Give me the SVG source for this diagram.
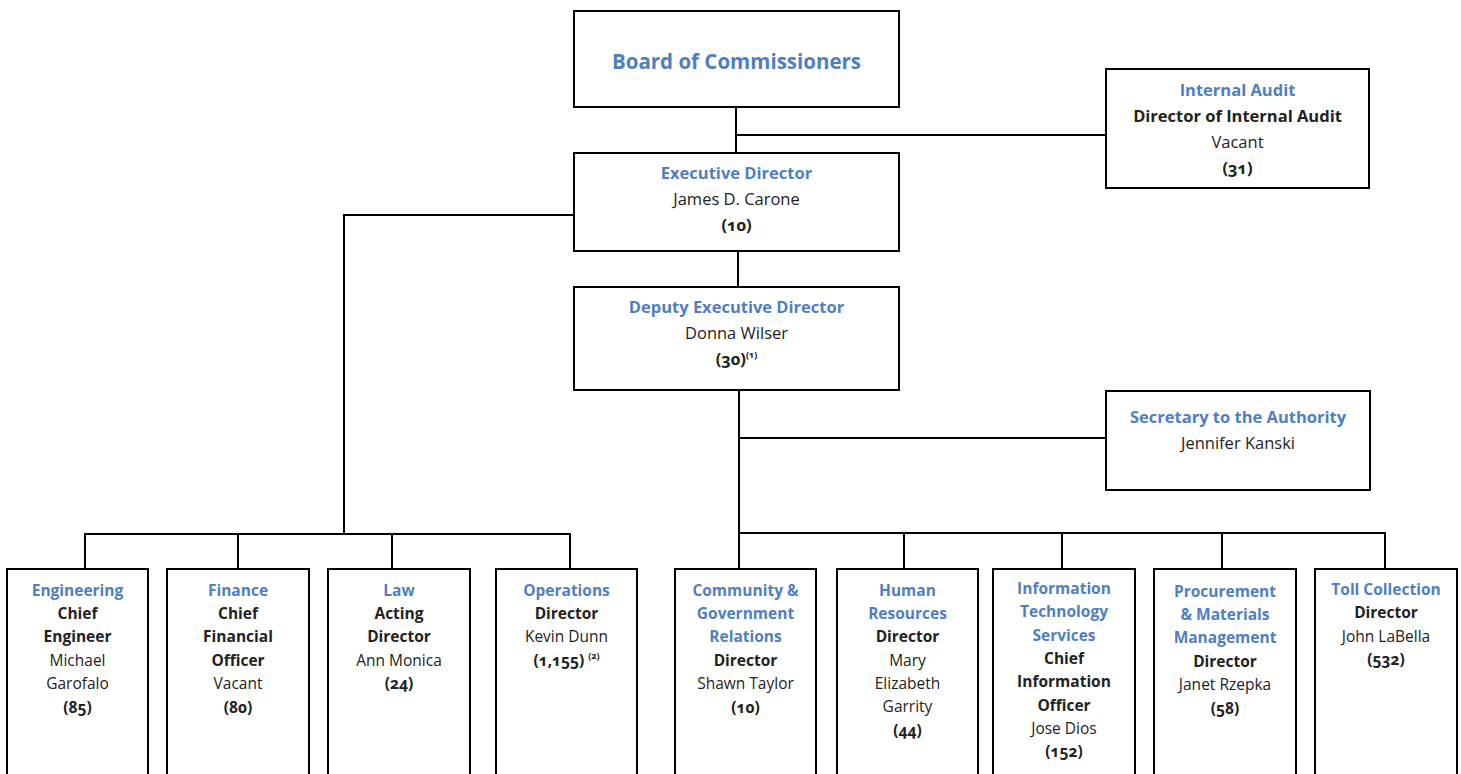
<svg xmlns="http://www.w3.org/2000/svg" width="1461" height="774" viewBox="0 0 1461 774">
<style>
.box{fill:#fff;stroke:#000;stroke-width:2}
.conn line,.conn polyline{stroke:#000;stroke-width:2;fill:none}
text{font-family:"Open Sans",Lato,"Liberation Sans",sans-serif;font-size:15.5px;text-anchor:middle;fill:#222;font-variant-numeric:oldstyle-nums}
.top text{font-size:16.5px}
.t{fill:#4f7ec2;font-weight:bold}
.b{font-weight:bold}
.top text.big{font-size:20.5px}
.top text .sup,.sup{font-size:9px;font-weight:bold}
</style>
<rect width="1461" height="774" fill="#fff"/>
<g class="conn" id="connectors">
<line x1="736" y1="107" x2="736" y2="153"/>
<line x1="736" y1="135" x2="1106" y2="135"/>
<line x1="738" y1="251" x2="738" y2="287"/>
<polyline points="574,215 344,215 344,534"/>
<polyline points="85,569 85,534 570,534 570,569"/>
<line x1="238" y1="534" x2="238" y2="569"/>
<line x1="392" y1="534" x2="392" y2="569"/>
<line x1="739" y1="390" x2="739" y2="569"/>
<line x1="739" y1="438" x2="1106" y2="438"/>
<polyline points="739,533 1385,533 1385,569"/>
<line x1="904" y1="533" x2="904" y2="569"/>
<line x1="1062" y1="533" x2="1062" y2="569"/>
<line x1="1222" y1="533" x2="1222" y2="569"/>
</g>
<g class="top">
<g id="board"><rect class="box" x="574" y="11" width="325" height="96"/>
<text class="t big" x="736.5" y="69">Board of Commissioners</text></g>
<g id="exec"><rect class="box" x="574" y="153" width="325" height="98"/>
<text class="t" x="736.5" y="179">Executive Director</text>
<text x="736.5" y="205">James D. Carone</text>
<text class="b" x="736.5" y="231">(10)</text></g>
<g id="audit"><rect class="box" x="1106" y="69" width="263" height="119"/>
<text class="t" x="1237.5" y="96">Internal Audit</text>
<text class="b" x="1237.5" y="122">Director of Internal Audit</text>
<text x="1237.5" y="148">Vacant</text>
<text class="b" x="1237.5" y="174">(31)</text></g>
<g id="deputy"><rect class="box" x="574" y="287" width="325" height="103"/>
<text class="t" x="736.5" y="313">Deputy Executive Director</text>
<text x="736.5" y="339">Donna Wilser</text>
<text class="b" x="736.5" y="365">(30)<tspan class="sup" dy="-7">(1)</tspan></text></g>
<g id="secretary"><rect class="box" x="1106" y="391" width="264" height="99"/>
<text class="t" x="1238" y="423">Secretary to the Authority</text>
<text x="1238" y="449">Jennifer Kanski</text></g>
</g>
<g id="engineering"><rect class="box" x="7" y="569" width="141" height="215"/>
<text class="t" x="77.5" y="596">Engineering</text>
<text class="b" x="77.5" y="619">Chief</text>
<text class="b" x="77.5" y="642">Engineer</text>
<text x="77.5" y="666">Michael</text>
<text x="77.5" y="689">Garofalo</text>
<text class="b" x="77.5" y="713">(85)</text></g>
<g id="finance"><rect class="box" x="167" y="569" width="142" height="215"/>
<text class="t" x="238" y="596">Finance</text>
<text class="b" x="238" y="619">Chief</text>
<text class="b" x="238" y="642">Financial</text>
<text class="b" x="238" y="666">Officer</text>
<text x="238" y="689">Vacant</text>
<text class="b" x="238" y="713">(80)</text></g>
<g id="law"><rect class="box" x="328" y="569" width="142" height="215"/>
<text class="t" x="399" y="596">Law</text>
<text class="b" x="399" y="619">Acting</text>
<text class="b" x="399" y="642">Director</text>
<text x="399" y="666">Ann Monica</text>
<text class="b" x="399" y="689">(24)</text></g>
<g id="operations"><rect class="box" x="496" y="569" width="141" height="215"/>
<text class="t" x="566.5" y="596">Operations</text>
<text class="b" x="566.5" y="619">Director</text>
<text x="566.5" y="642">Kevin Dunn</text>
<text class="b" x="566.5" y="666">(1,155) <tspan class="sup" dy="-7">(2)</tspan></text></g>
<g id="community"><rect class="box" x="675" y="569" width="141" height="215"/>
<text class="t" x="745.5" y="596">Community &amp;</text>
<text class="t" x="745.5" y="619">Government</text>
<text class="t" x="745.5" y="642">Relations</text>
<text class="b" x="745.5" y="666">Director</text>
<text x="745.5" y="689">Shawn Taylor</text>
<text class="b" x="745.5" y="713">(10)</text></g>
<g id="hr"><rect class="box" x="837" y="569" width="141" height="215"/>
<text class="t" x="907.5" y="596">Human</text>
<text class="t" x="907.5" y="619">Resources</text>
<text class="b" x="907.5" y="642">Director</text>
<text x="907.5" y="666">Mary</text>
<text x="907.5" y="689">Elizabeth</text>
<text x="907.5" y="712">Garrity</text>
<text class="b" x="907.5" y="736">(44)</text></g>
<g id="it"><rect class="box" x="993" y="569" width="142" height="215"/>
<text class="t" x="1064" y="594">Information</text>
<text class="t" x="1064" y="617">Technology</text>
<text class="t" x="1064" y="641">Services</text>
<text class="b" x="1064" y="664">Chief</text>
<text class="b" x="1064" y="687">Information</text>
<text class="b" x="1064" y="711">Officer</text>
<text x="1064" y="734">Jose Dios</text>
<text class="b" x="1064" y="757">(152)</text></g>
<g id="procurement"><rect class="box" x="1154" y="569" width="142" height="215"/>
<text class="t" x="1225" y="597">Procurement</text>
<text class="t" x="1225" y="620">&amp; Materials</text>
<text class="t" x="1225" y="643">Management</text>
<text class="b" x="1225" y="667">Director</text>
<text x="1225" y="690">Janet Rzepka</text>
<text class="b" x="1225" y="714">(58)</text></g>
<g id="toll"><rect class="box" x="1315" y="569" width="142" height="215"/>
<text class="t" x="1386" y="595">Toll Collection</text>
<text class="b" x="1386" y="618">Director</text>
<text x="1386" y="642">John LaBella</text>
<text class="b" x="1386" y="665">(532)</text></g>
</svg>
